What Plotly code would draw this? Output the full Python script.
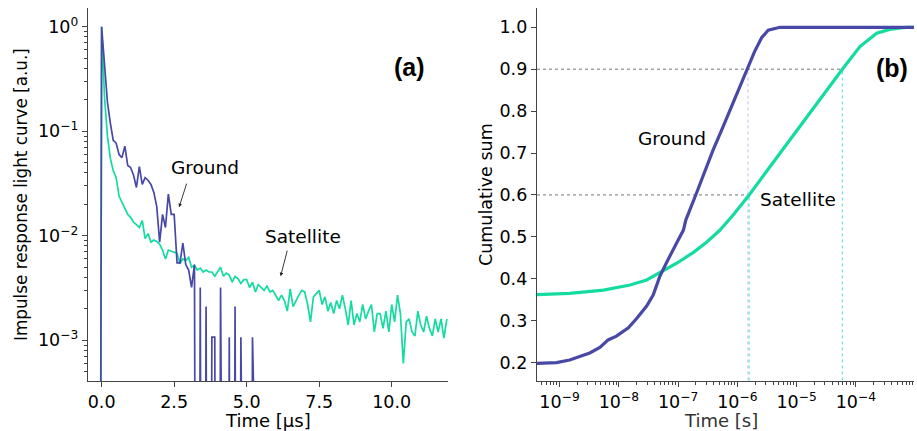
import numpy as np
import plotly.graph_objects as go

# ---- panel (a): impulse response light curves, 0.1 µs bins ----
t_us = [round(-0.4 + 0.1 * i, 1) for i in range(124)]

satellite_ir = [
    0, 0, 0, 0,
    1.0, 0.21, 0.09, 0.055, 0.042, 0.036, 0.024, 0.021, 0.018, 0.016,
    0.015, 0.0135, 0.0128, 0.012, 0.014, 0.0094, 0.0105, 0.0087, 0.0091, 0.0088,
    0.0083, 0.0073, 0.0060, 0.0073, 0.0071, 0.0070, 0.0068, 0.0054, 0.0060, 0.0058,
    0.0062, 0.0050, 0.0052, 0.0047, 0.0049, 0.0045, 0.0047, 0.0045, 0.0045, 0.0041,
    0.0045, 0.0050, 0.0041, 0.0044, 0.0042, 0.0036, 0.0041, 0.0039, 0.0035, 0.0038,
    0.0038, 0.0032, 0.0036, 0.0029, 0.0034, 0.0032, 0.0030, 0.0033, 0.0029, 0.0030,
    0.0027, 0.0024, 0.0027, 0.0024, 0.0019, 0.0031, 0.0021, 0.0024, 0.0027, 0.0030,
    0.0029, 0.0022, 0.0015, 0.0026, 0.0028, 0.0030, 0.0022, 0.0026, 0.0019, 0.0023,
    0.0018, 0.0024, 0.0020, 0.0027, 0.0020, 0.0014, 0.0024, 0.0014, 0.0018, 0.0015,
    0.0022, 0.0016, 0.0019, 0.0022, 0.0012, 0.0018, 0.0018, 0.0013, 0.0019, 0.0012,
    0.0022, 0.0015, 0.0027, 0.0018, 0.0006, 0.0015, 0.0016, 0.0012, 0.0011, 0.0019,
    0.0014, 0.0012, 0.0017, 0.0013, 0.0011, 0.0016, 0.0012, 0.0016, 0.00105, 0.0016,
]

ground_ir = [
    0, 0, 0, 0,
    1.0, 0.45, 0.19, 0.12, 0.082, 0.077, 0.060, 0.056, 0.072, 0.047,
    0.045, 0.038, 0.029, 0.046, 0.031, 0.036, 0.034, 0.031, 0.026, 0.019,
    0.0087, 0.016, 0.012, 0.025, 0.016, 0.016, 0.0055, 0.0055, 0.0085, 0.0053,
    0.0047, 0.0032, 0.0053, 0, 0.0032, 0, 0.0021, 0, 0.00107, 0.00107,
    0, 0.0032, 0, 0, 0.00107, 0, 0.0021, 0, 0.00107, 0,
    0, 0, 0.00107, 0, 0, 0, 0, 0, 0, 0,
] + [0] * 60

# ---- panel (b): cumulative sums versus time ----
ground_t_s = [4.07e-10, 8.9e-10, 1.48e-9, 2.19e-9, 3.24e-9, 4.79e-9, 6.61e-9, 9.12e-9,
              1.45e-8, 2.0e-8, 2.95e-8, 3.8e-8, 4.9e-8, 6.46e-8, 8.3e-8, 1.0e-7,
              1.23e-7, 1.35e-7, 2.04e-7, 3.02e-7, 3.89e-7, 5.75e-7, 7.41e-7, 9.55e-7,
              1.51e-6, 1.95e-6, 2.57e-6, 3.31e-6, 5.25e-6, 1.0e-3]
ground_cum = [0.198, 0.200, 0.206, 0.214, 0.223, 0.236, 0.254, 0.263,
              0.283, 0.305, 0.335, 0.361, 0.405, 0.440, 0.468, 0.492,
              0.516, 0.540, 0.604, 0.667, 0.707, 0.763, 0.800, 0.838,
              0.900, 0.942, 0.975, 0.993, 1.000, 1.000]

satellite_t_s = [4.07e-10, 1.48e-9, 5.5e-9, 1.55e-8, 2.95e-8, 4.9e-8, 9.5e-8, 1.82e-7,
                 3.02e-7, 5.0e-7, 8.5e-7, 1.58e-6, 2.95e-6, 7.6e-6, 2.0e-5,
                 5.9e-5, 1.17e-4, 2.24e-4, 3.7e-4, 7.2e-4, 1.0e-3]
satellite_cum = [0.362, 0.365, 0.373, 0.385, 0.397, 0.414, 0.437, 0.463,
                 0.487, 0.515, 0.552, 0.600, 0.652, 0.731, 0.810,
                 0.900, 0.954, 0.986, 0.995, 1.000, 1.000]

levels = [0.6, 0.9]

GROUND = "#4848a6"
SATELLITE = "#14dba0"
FONT = "DejaVu Sans"
W, H = 917, 431

# empty bins have no counts: push them far below the log axis so the line drops out
FLOOR = 1e-12
sat_plot = [v if v > 0 else FLOOR for v in satellite_ir]
gnd_plot = [v if v > 0 else FLOOR for v in ground_ir]

fig = go.Figure()
fig.add_trace(go.Scatter(x=t_us, y=sat_plot, mode="lines",
                         line=dict(color=SATELLITE, width=1.7), xaxis="x", yaxis="y"))
fig.add_trace(go.Scatter(x=t_us, y=gnd_plot, mode="lines",
                         line=dict(color=GROUND, width=1.7), xaxis="x", yaxis="y"))


def crossing(level, t, c):
    return 10 ** np.interp(level, c, np.log10(t))


x2_left = 10 ** -9.38
# guide lines at the 60 % and 90 % levels
guides = [
    (0.9, crossing(0.9, ground_t_s, ground_cum), "#b9b9e6"),
    (0.6, crossing(0.6, satellite_t_s, satellite_cum), "#3ddfd6"),
    (0.9, crossing(0.9, satellite_t_s, satellite_cum), "#3ddfd6"),
]
for lev in levels:
    tx = crossing(lev, satellite_t_s, satellite_cum)
    fig.add_trace(go.Scatter(x=[x2_left, tx], y=[lev, lev], mode="lines",
                             line=dict(color="#666666", width=0.9, dash="dot"),
                             xaxis="x2", yaxis="y2"))
for lev, tx, col in guides:
    fig.add_trace(go.Scatter(x=[tx, tx], y=[0.1, lev], mode="lines",
                             line=dict(color=col, width=0.9, dash="dot"),
                             xaxis="x2", yaxis="y2"))

fig.add_trace(go.Scatter(x=satellite_t_s, y=satellite_cum, mode="lines",
                         line=dict(color=SATELLITE, width=3.2), xaxis="x2", yaxis="y2"))
fig.add_trace(go.Scatter(x=ground_t_s, y=ground_cum, mode="lines",
                         line=dict(color=GROUND, width=3.2), xaxis="x2", yaxis="y2"))

axis_common = dict(showline=True, linecolor="#444444", linewidth=1.4, ticks="outside",
                   ticklen=5, tickwidth=1.2, tickcolor="#444444", showgrid=False,
                   zeroline=False, tickfont=dict(family=FONT, size=17.5, color="black"))

sup = lambda e: "10<sup>" + ("−" + str(-e) if e < 0 else str(e)) + "</sup>"
minor_y = [k * 10.0 ** d for d in range(-4, 0) for k in range(2, 10)]
minor_x = [k * 10.0 ** d for d in range(-10, -3) for k in range(2, 10)]
minor_style = dict(ticks="outside", ticklen=3, tickwidth=0.9, tickcolor="#444444", showgrid=False)

fig.update_layout(
    width=W, height=H, margin=dict(l=0, r=0, t=0, b=0),
    paper_bgcolor="white", plot_bgcolor="white", showlegend=False,
    font=dict(family=FONT, size=18, color="black"),
    xaxis=dict(domain=[88 / W, 448 / W], range=[-0.47, 11.94],
               tickvals=[0, 2.5, 5, 7.5, 10], ticktext=["0.0", "2.5", "5.0", "7.5", "10.0"],
               anchor="y", **axis_common),
    yaxis=dict(domain=[1 - 381 / H, 1 - 8 / H], type="log", range=[-3.39, 0.18],
               tickvals=[1, 0.1, 0.01, 0.001], ticktext=[sup(0), sup(-1), sup(-2), sup(-3)],
               minor=dict(tickvals=minor_y, **minor_style),
               anchor="x", **axis_common),
    xaxis2=dict(domain=[537 / W, 914 / W], type="log", range=[-9.38, -3.02],
                tickvals=[1e-9, 1e-8, 1e-7, 1e-6, 1e-5, 1e-4],
                ticktext=[sup(e) for e in range(-9, -3)],
                minor=dict(tickvals=minor_x, **minor_style),
                anchor="y2", **axis_common),
    yaxis2=dict(domain=[1 - 381 / H, 1 - 8 / H], range=[0.156, 1.046],
                tickvals=[0.2, 0.3, 0.4, 0.5, 0.6, 0.7, 0.8, 0.9, 1.0],
                ticktext=["0.2", "0.3", "0.4", "0.5", "0.6", "0.7", "0.8", "0.9", "1.0"],
                anchor="x2", **axis_common),
)

ann = []


def ptext(text, px, py, size=18, angle=0, color="black", family=FONT):
    ann.append(dict(text=text, x=px / W, y=1 - py / H, xref="paper", yref="paper",
                    showarrow=False, textangle=angle, xanchor="center", yanchor="middle",
                    font=dict(family=family, size=size, color=color)))


ptext("Impulse response light curve [a.u.]", 21, 195, size=16.8, angle=-90)
ptext("Time [µs]", 268, 420, size=18)
ptext("Cumulative sum", 486, 194, size=17.5, angle=-90)
ptext("Time [s]", 721, 420, size=18, color="#333333")
ptext("<b>(a)</b>", 409, 67, size=25, family="Liberation Sans")
ptext("<b>(b)</b>", 892, 68, size=25, family="Liberation Sans")

# curve labels
ann.append(dict(text="Ground", x=3.57, y=-1.342, xref="x", yref="y", showarrow=False,
                font=dict(family=FONT, size=18.5)))
ann.append(dict(text="Satellite", x=6.94, y=-2.01, xref="x", yref="y", showarrow=False,
                font=dict(family=FONT, size=18.5)))
ann.append(dict(text="", x=2.67, y=-1.726, xref="x", yref="y", ax=8, ay=-25,
                showarrow=True, arrowhead=2, arrowsize=0.8, arrowwidth=0.9, arrowcolor="#222222"))
ann.append(dict(text="", x=6.17, y=-2.387, xref="x", yref="y", ax=7, ay=-27,
                showarrow=True, arrowhead=2, arrowsize=0.8, arrowwidth=0.9, arrowcolor="#222222"))
ann.append(dict(text="Ground", x=-7.10, y=0.735, xref="x2", yref="y2", showarrow=False,
                font=dict(family=FONT, size=18.5)))
ann.append(dict(text="Satellite", x=-4.985, y=0.59, xref="x2", yref="y2", showarrow=False,
                font=dict(family=FONT, size=18.5)))

fig.update_layout(annotations=ann)
fig.write_html("out.html")
